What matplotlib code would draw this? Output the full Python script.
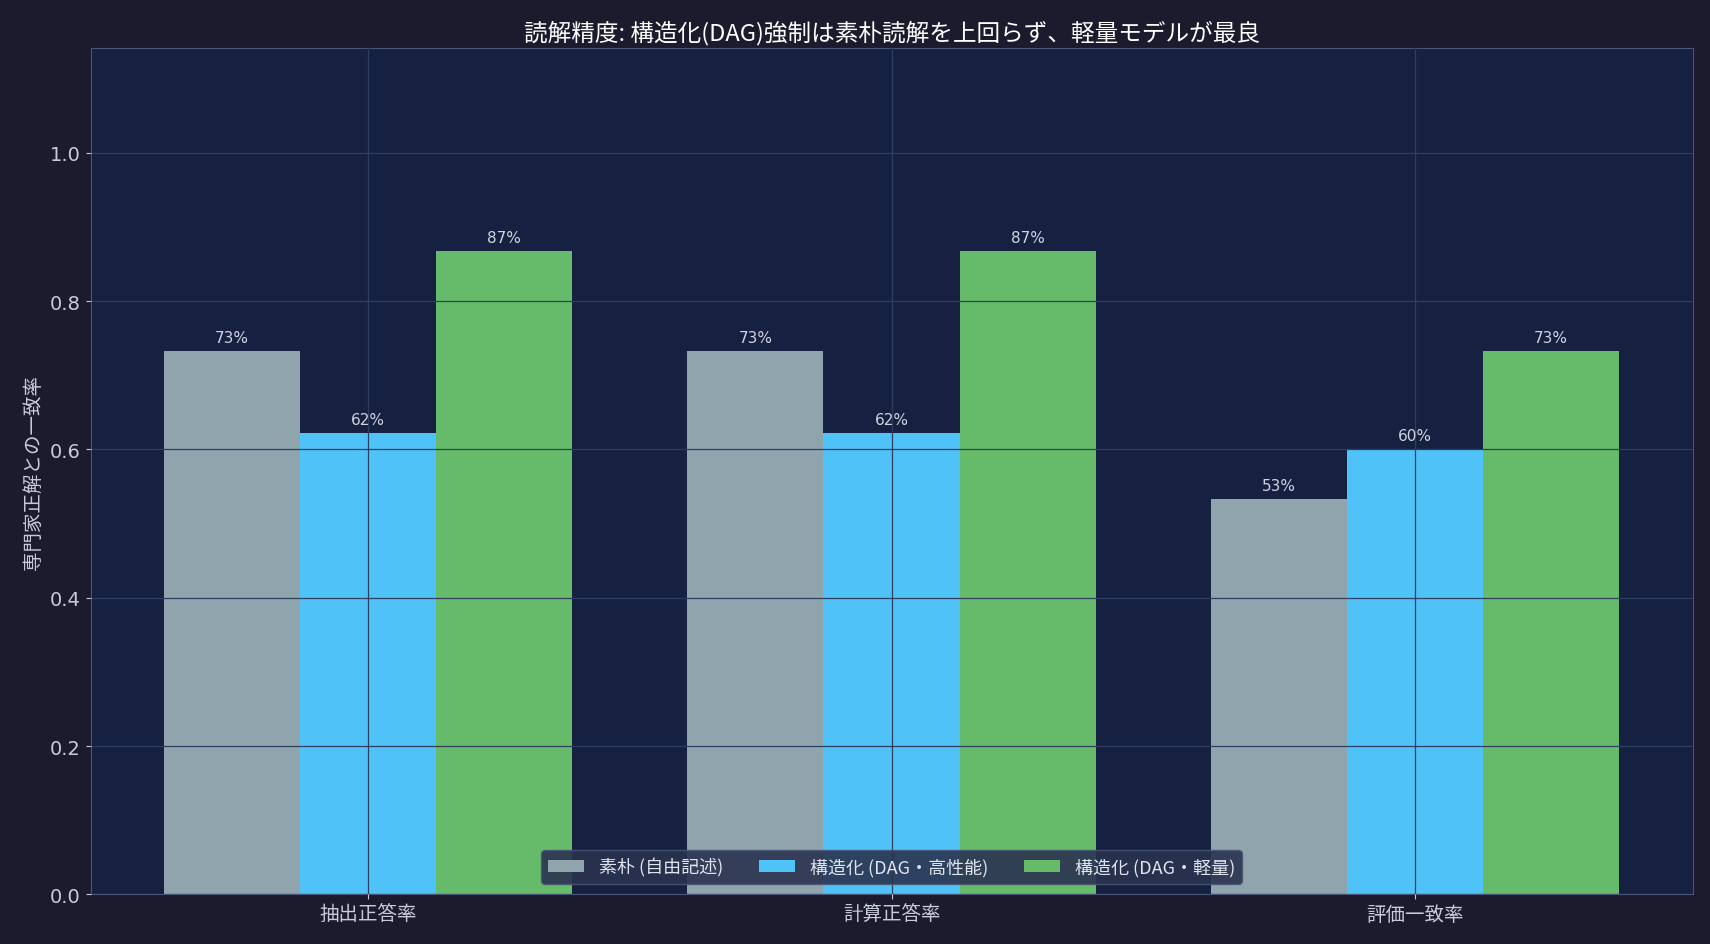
import matplotlib
matplotlib.use("Agg")
import matplotlib.pyplot as plt
import numpy as np

plt.rcParams['font.family'] = ['Noto Sans CJK JP', 'DejaVu Sans']

categories = ["抽出正答率", "計算正答率", "評価一致率"]
series_names = ["素朴 (自由記述)", "構造化 (DAG・高性能)", "構造化 (DAG・軽量)"]
naive = [0.733, 0.733, 0.533]
dag_high = [0.622, 0.622, 0.600]
dag_light = [0.867, 0.867, 0.733]
colors = ["#90a4ae", "#4fc3f7", "#66bb6a"]

W, H = 1568, 866.5
fig = plt.figure(figsize=(17.1, 9.45), dpi=100, facecolor="#1c1b2e")
ax = fig.add_axes([83/W, 1-821/H, (1552-83)/W, (821-45)/H])
ax.set_facecolor("#162040")

x = np.arange(len(categories))
w = 0.26
for i, (vals, name, c) in enumerate(zip([naive, dag_high, dag_light], series_names, colors)):
    bars = ax.bar(x + (i-1)*w, vals, w, color=c, label=name, zorder=1)
    for b, v in zip(bars, vals):
        ax.text(b.get_x()+b.get_width()/2, v+0.008, f"{v*100:.0f}%", ha="center", va="bottom",
                color="#d0d4e0", fontsize=11, family=['DejaVu Sans'])

ax.set_xlim(-0.53, 2.53)
ax.set_ylim(0, 1.141)
ax.set_yticks([0, 0.2, 0.4, 0.6, 0.8, 1.0])
ax.set_xticks(x)
ax.set_xticklabels(categories)
for lab in ax.get_yticklabels():
    lab.set_family(['DejaVu Sans'])
ax.grid(True, color="#2e3d60", linewidth=0.9, zorder=2)
ax.set_axisbelow(False)
ax.tick_params(colors="#c8ccd8", labelsize=14)
for s in ax.spines.values():
    s.set_color("#4a5575")
ax.set_ylabel("専門家正解との一致率", color="#c8ccd8", fontsize=14)
ax.set_title("読解精度: 構造化(DAG)強制は素朴読解を上回らず、軽量モデルが最良", color="white", fontsize=17, pad=6)
leg = ax.legend(loc="lower center", ncol=3, fontsize=13, facecolor="#2a3350", edgecolor="#4a5575",
                labelcolor="#e0e4ee", framealpha=0.9, borderaxespad=0.6)
leg.set_zorder(5)
fig.savefig("out.png", dpi=100, facecolor=fig.get_facecolor())
